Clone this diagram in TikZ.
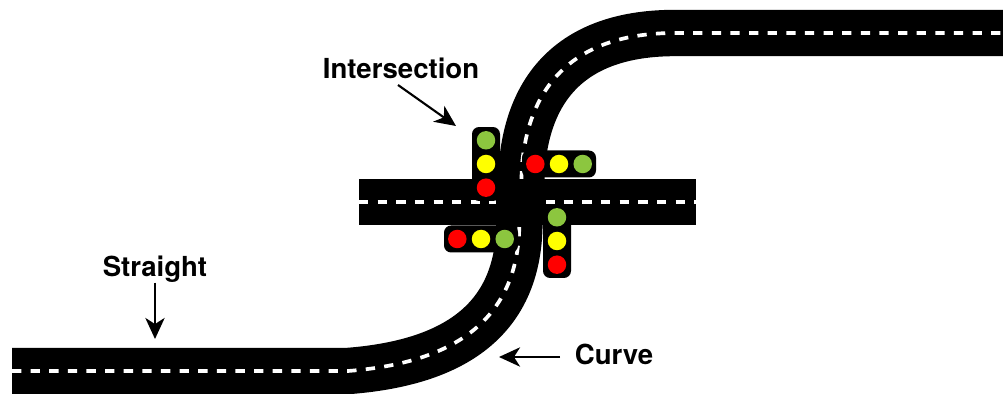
\documentclass[tikz,border=0pt]{standalone}
\usepackage{fontspec}
\setmainfont{TeX Gyre Heros}
\usepackage{xcolor}
\usepackage{tikz}
\usetikzlibrary{arrows.meta, positioning}
\definecolor{sigred}{HTML}{FF0000}
\definecolor{sigyellow}{HTML}{FFFF00}
\definecolor{siggreen}{HTML}{8CC63F}
\tikzstyle{road}      = [line width=26.4pt, black]
\tikzstyle{lane}      = [line width=2.1pt, white, dash pattern=on 5.3pt off 5.3pt]
\tikzstyle{hvert}     = [rectangle, rounded corners=4pt, fill=black, minimum width=0.56cm, minimum height=1.48cm, inner sep=0pt]
\tikzstyle{hhoriz}    = [rectangle, rounded corners=4pt, fill=black, minimum width=1.48cm, minimum height=0.54cm, inner sep=0pt]
\tikzstyle{lamp}      = [circle, minimum size=0.37cm, inner sep=0pt]
\tikzstyle{redlamp}   = [lamp, fill=sigred]
\tikzstyle{yellamp}   = [lamp, fill=sigyellow]
\tikzstyle{grnlamp}   = [lamp, fill=siggreen]
\tikzstyle{tag}       = [font=\fontsize{15.7}{18}\selectfont\bfseries, inner sep=0pt]
\tikzstyle{arrow}     = [-{Stealth[length=12pt, width=11pt, inset=3.5pt]}, line width=1.2pt]

\begin{document}
\begin{tikzpicture}[x=0.02cm, y=-0.02cm, node distance=0.09cm]
  \useasboundingbox (0,0) rectangle (1003,394);
  % crossing road
  \draw[road, line cap=butt] (359,202) -- (696,202);
  \draw[lane] (359,202) -- (696,202);
  % s-shaped road
  \draw[road] (12,371) -- (348,371) .. controls (465,362) and (514,312) .. (519,235)
    -- (522,165) .. controls (530,75) and (585,33) .. (675,33) -- (1003,33);
  \draw[lane] (12,371) -- (348,371) .. controls (465,362) and (514,312) .. (519,235)
    -- (522,165) .. controls (530,75) and (585,33) .. (675,33) -- (1003,33);
  % junction
  \node[fill=black, minimum width=1.0cm, minimum height=0.92cm, inner sep=0pt] (junction) at (521,202) {};
  % signals
  \node[hvert] (sigw) at (486,164) {};
  \node[yellamp] (wy) at (sigw) {};
  \node[grnlamp, above=of wy] (wg) {};
  \node[redlamp, below=of wy] (wr) {};

  \node[hhoriz] (sign) at (559,164) {};
  \node[yellamp] (ny) at (sign) {};
  \node[redlamp, left=of ny] (nr) {};
  \node[grnlamp, right=of ny] (ng) {};

  \node[hhoriz] (sigs) at (481,239) {};
  \node[yellamp] (sy) at (sigs) {};
  \node[redlamp, left=of sy] (sr) {};
  \node[grnlamp, right=of sy] (sg) {};

  \node[hvert] (sige) at (557,241) {};
  \node[yellamp] (ey) at (sige) {};
  \node[grnlamp, above=of ey] (eg) {};
  \node[redlamp, below=of ey] (er) {};
  % labels
  \node[tag] (intersection) at (401,68) {Intersection};
  \node[tag] (straight) at (155,269) {Straight};
  \node[tag] (curve) at (614,354) {Curve};
  \coordinate (curvetail) at (560,357);
  \coordinate (intertail) at (398,85);
  \coordinate (intertip) at (456,126);
  \coordinate (straighttip) at (155,339);
  \coordinate (curvetip) at (499,357);

  \draw[arrow] (intertail) -- (intertip);
  \draw[arrow] (straight.south) -- (straighttip);
  \draw[arrow] (curvetail) -- (curvetip);
\end{tikzpicture}
\end{document}
